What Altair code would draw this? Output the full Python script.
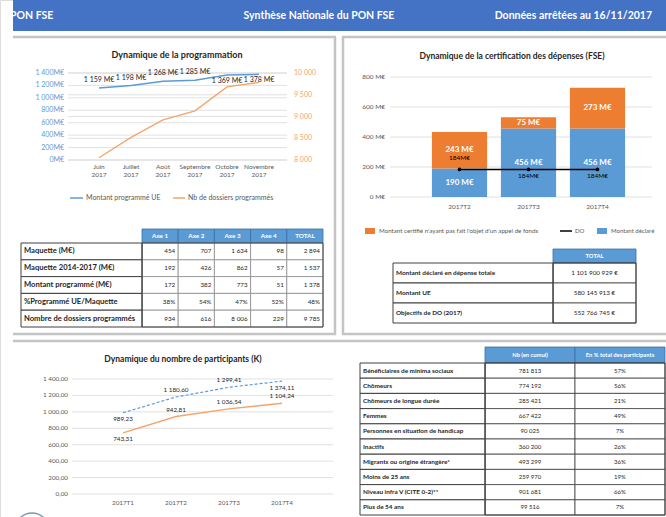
import altair as alt
import pandas as pd

FONT = "Lato"
GRAY_TXT = "#595959"
DARK_TXT = "#262626"
BLUE = "#5B9BD5"
ORANGE_BAR = "#ED7D31"
ORANGE_LINE = "#F4A46A"
HEADER_BLUE = "#4472C4"
TABLE_BLUE = "#5B9BD5"
GRID = "#D9D9D9"
PANEL = "#C4C4C4"

# ---------------- data ----------------
header_texts = ["PON FSE", "Synthèse Nationale du PON FSE", "Données arrêtées au 16/11/2017"]

prog_title = "Dynamique de la programmation"
prog_months = ["Juin\n2017", "Juillet\n2017", "Août\n2017", "Septembre\n2017", "Octobre\n2017", "Novembre\n2017"]
prog_montant = [1159, 1198, 1268, 1285, 1369, 1378]
prog_montant_labels = ["1 159 M€", "1 198 M€", "1 268 M€", "1 285 M€", "1 369 M€", "1 378 M€"]
prog_dossiers = [8050, 8520, 8920, 9130, 9680, 9785]
prog_left_ticks = [0, 200, 400, 600, 800, 1000, 1200, 1400]
prog_left_labels = ["0M€", "200M€", "400M€", "600M€", "800M€", "1 000M€", "1 200M€", "1 400M€"]
prog_right_ticks = [8000, 8500, 9000, 9500, 10000]
prog_right_labels = ["8 000", "8 500", "9 000", "9 500", "10 000"]
prog_series = ["Montant programmé UE", "Nb de dossiers programmés"]

t1_cols = ["Axe 1", "Axe 2", "Axe 3", "Axe 4", "TOTAL"]
t1_rows = ["Maquette (M€)", "Maquette 2014-2017 (M€)", "Montant programmé (M€)",
           "%Programmé UE/Maquette", "Nombre de dossiers programmés"]
t1_maquette = ["454", "707", "1 634", "98", "2 894"]
t1_maquette_1417 = ["192", "426", "862", "57", "1 537"]
t1_programme = ["172", "382", "773", "51", "1 378"]
t1_pct = ["38%", "54%", "47%", "52%", "48%"]
t1_dossiers = ["934", "616", "8 006", "229", "9 785"]

cert_title = "Dynamique de la certification des dépenses (FSE)"
cert_quarters = ["2017T2", "2017T3", "2017T4"]
cert_declare = [190, 456, 456]
cert_non_appel = [243, 75, 273]
cert_do = [184, 184, 184]
cert_declare_labels = ["190 M€", "456 M€", "456 M€"]
cert_non_appel_labels = ["243 M€", "75 M€", "273 M€"]
cert_do_labels = ["184M€", "184M€", "184M€"]
cert_ticks = [0, 200, 400, 600, 800]
cert_tick_labels = ["0 M€", "200 M€", "400 M€", "600 M€", "800 M€"]
cert_series = ["Montant certifié n'ayant pas fait l'objet d'un appel de fonds", "DO", "Montant déclaré"]

t2_cols = ["TOTAL"]
t2_rows = ["Montant déclaré en dépense totale", "Montant UE", "Objectifs de DO (2017)"]
t2_values = ["1 101 900 929 €", "580 145 913 €", "552 766 745 €"]

part_title = "Dynamique du nombre de participants (K)"
part_quarters = ["2017T1", "2017T2", "2017T3", "2017T4"]
part_total = [989.23, 1180.60, 1299.41, 1374.11]
part_total_labels = ["989,23", "1 180,60", "1 299,41", "1 374,11"]
part_other = [743.31, 942.81, 1036.54, 1104.24]
part_other_labels = ["743,31", "942,81", "1 036,54", "1 104,24"]
part_ticks = [0, 200, 400, 600, 800, 1000, 1200, 1400]
part_tick_labels = ["0,00", "200,00", "400,00", "600,00", "800,00", "1 000,00", "1 200,00", "1 400,00"]

t3_cols = ["Nb (en cumul)", "En % total des participants"]
t3_rows = ["Bénéficiaires de minima sociaux", "Chômeurs", "Chômeurs de longue durée", "Femmes",
           "Personnes en situation de handicap", "Inactifs", "Migrants ou origine étrangère*",
           "Moins de 25 ans", "Niveau infra V (CITE 0-2)**", "Plus de 54 ans"]
t3_nb = ["781 813", "774 192", "285 421", "667 422", "90 025", "360 200", "493 299", "259 970", "901 681", "99 516"]
t3_pct = ["57%", "56%", "21%", "49%", "7%", "26%", "36%", "19%", "66%", "7%"]

# ---------------- helpers ----------------
ONE = pd.DataFrame({"a": [0]})


def qs(domain, rng):
    return alt.Scale(domain=domain, range=rng, nice=False, zero=False)


def ps(domain, rng, padding=0.0):
    return alt.Scale(type="point", domain=domain, range=rng, padding=padding)


def bs(domain, rng, inner=0.0, outer=0.0):
    return alt.Scale(type="band", domain=domain, range=rng, paddingInner=inner, paddingOuter=outer)


def hrule(x1, x2, y, color=PANEL, w=2.5):
    return alt.Chart(ONE).mark_rule(color=color, strokeWidth=w).encode(
        x=alt.value(x1), x2=alt.value(x2), y=alt.value(y))


def vrule(x, y1, y2, color=PANEL, w=2.5):
    return alt.Chart(ONE).mark_rule(color=color, strokeWidth=w).encode(
        x=alt.value(x), y=alt.value(y1), y2=alt.value(y2))


def label(text, x, y, size=8, color=DARK_TXT, weight="normal", align="left"):
    return alt.Chart(pd.DataFrame({"t": [text]})).mark_text(
        align=align, baseline="middle", fontSize=size, color=color, fontWeight=weight, font=FONT
    ).encode(x=alt.value(x), y=alt.value(y), text="t:N")


def make_table(rows, cols, cells, label_x0, col_x0, col_x1, header_y0, row_y0, row_y1,
               label_size, value_size, header_size, value_align, label_stroke, cell_stroke):
    xs = bs(cols, [col_x0, col_x1])
    xsp = ps(cols, [col_x0, col_x1], 0.5)
    ys = bs(rows, [row_y0, row_y1])
    ysp = ps(rows, [row_y0, row_y1], 0.5)
    bw = (col_x1 - col_x0) / len(cols)
    hdr = pd.DataFrame({"c": cols})
    rdf = pd.DataFrame({"r": rows})
    long = pd.DataFrame([{"r": r, "c": c, "v": v}
                         for r, vals in zip(rows, cells) for c, v in zip(cols, vals)])
    lay = [
        alt.Chart(hdr).mark_rect(color=TABLE_BLUE, stroke="#3A6FA5", strokeWidth=0.8).encode(
            x=alt.X("c:N", scale=xs, axis=None), y=alt.value(header_y0), y2=alt.value(row_y0)),
        alt.Chart(hdr).mark_text(color="white", fontWeight="bold", fontSize=header_size,
                                 baseline="middle", font=FONT).encode(
            x=alt.X("c:N", scale=xsp, axis=None), y=alt.value((header_y0 + row_y0) / 2), text="c:N"),
        alt.Chart(long).mark_rect(fill="white", stroke=cell_stroke, strokeWidth=0.8).encode(
            x=alt.X("c:N", scale=xs, axis=None), y=alt.Y("r:N", scale=ys, axis=None)),
        alt.Chart(rdf).mark_rect(fill="white", stroke=label_stroke, strokeWidth=1).encode(
            x=alt.value(label_x0), x2=alt.value(col_x0), y=alt.Y("r:N", scale=ys, axis=None)),
        alt.Chart(rdf).mark_text(align="left", baseline="middle", fontSize=label_size,
                                 fontWeight="bold", color=DARK_TXT, font=FONT).encode(
            x=alt.value(label_x0 + 3), y=alt.Y("r:N", scale=ysp, axis=None), text="r:N"),
    ]
    if value_align == "right":
        vt = alt.Chart(long).mark_text(align="right", baseline="middle", fontSize=value_size,
                                       color=DARK_TXT, font=FONT, dx=bw / 2 - 3)
    else:
        vt = alt.Chart(long).mark_text(align="center", baseline="middle", fontSize=value_size,
                                       color=DARK_TXT, font=FONT)
    lay.append(vt.encode(x=alt.X("c:N", scale=xsp, axis=None),
                         y=alt.Y("r:N", scale=ysp, axis=None), text="v:N"))
    lay.append(alt.Chart(ONE).mark_rect(fill=None, stroke=label_stroke, strokeWidth=1).encode(
        x=alt.value(col_x0), x2=alt.value(col_x1), y=alt.value(row_y0), y2=alt.value(row_y1)))
    return lay


L = []

# ---------------- header & panels ----------------
L.append(alt.Chart(ONE).mark_rect(color=HEADER_BLUE).encode(
    x=alt.value(13), x2=alt.value(666), y=alt.value(0), y2=alt.value(31)))
L.append(label(header_texts[0], 10, 16, 10.5, "white", "bold", "left"))
L.append(label(header_texts[1], 319, 16, 10.5, "white", "bold", "center"))
L.append(label(header_texts[2], 652, 16, 10.5, "white", "bold", "right"))

L.append(hrule(13, 336, 37))
L.append(vrule(335, 37, 335))
L.append(hrule(13, 336, 334))
L.append(hrule(342, 666, 37))
L.append(vrule(343, 37, 335))
L.append(hrule(342, 666, 334))
L.append(hrule(13, 666, 341))

# ---------------- chart 1: programmation ----------------
xp = ps(prog_months, [99, 259])
yl = qs([0, 1400], [160, 73])
yr = qs([8000, 10000], [160, 73])

L.append(label(prog_title, 177, 55, 9, DARK_TXT, "bold", "center"))
L.append(alt.Chart(pd.DataFrame({"v": prog_left_ticks})).mark_rule(color=GRID, strokeWidth=0.8).encode(
    y=alt.Y("v:Q", scale=yl, axis=None), x=alt.value(68), x2=alt.value(287)))
L.append(alt.Chart(pd.DataFrame({"v": prog_right_ticks})).mark_rule(color=GRID, strokeWidth=0.8).encode(
    y=alt.Y("v:Q", scale=yr, axis=None), x=alt.value(68), x2=alt.value(287)))
L.append(alt.Chart(pd.DataFrame({"v": prog_left_ticks, "t": prog_left_labels})).mark_text(
    align="right", baseline="middle", fontSize=7, color=BLUE, font=FONT).encode(
    y=alt.Y("v:Q", scale=yl, axis=None), x=alt.value(64), text="t:N"))
L.append(alt.Chart(pd.DataFrame({"v": prog_right_ticks, "t": prog_right_labels})).mark_text(
    align="left", baseline="middle", fontSize=7, color=ORANGE_LINE, font=FONT).encode(
    y=alt.Y("v:Q", scale=yr, axis=None), x=alt.value(294), text="t:N"))
L.append(alt.Chart(pd.DataFrame({"m": prog_months})).mark_text(
    baseline="top", fontSize=6.5, color=GRAY_TXT, lineBreak="\n", lineHeight=8, font=FONT).encode(
    x=alt.X("m:N", scale=xp, axis=None), y=alt.value(164), text="m:N"))

d1 = pd.DataFrame({"m": prog_months, "v": prog_montant, "lab": prog_montant_labels,
                   "d": prog_dossiers, "i": list(range(len(prog_months)))})
L.append(alt.Chart(d1).mark_line(color=ORANGE_LINE, strokeWidth=1.3).encode(
    x=alt.X("m:N", scale=xp, axis=None), y=alt.Y("d:Q", scale=yr, axis=None), order="i:Q"))
L.append(alt.Chart(d1).mark_line(color=BLUE, strokeWidth=1.5).encode(
    x=alt.X("m:N", scale=xp, axis=None), y=alt.Y("v:Q", scale=yl, axis=None), order="i:Q"))
L.append(alt.Chart(d1).transform_filter("datum.i < 4").mark_text(
    baseline="middle", fontSize=7, color=DARK_TXT, dy=-8, font=FONT).encode(
    x=alt.X("m:N", scale=xp, axis=None), y=alt.Y("v:Q", scale=yl, axis=None), text="lab:N"))
L.append(alt.Chart(d1).transform_filter("datum.i >= 4").mark_text(
    baseline="middle", fontSize=7, color=DARK_TXT, dy=6, font=FONT).encode(
    x=alt.X("m:N", scale=xp, axis=None), y=alt.Y("v:Q", scale=yl, axis=None), text="lab:N"))

# legend
L.append(hrule(70, 83, 198, BLUE, 1.5))
L.append(label(prog_series[0], 86, 198, 7, GRAY_TXT))
L.append(hrule(173, 185, 198, ORANGE_LINE, 1.5))
L.append(label(prog_series[1], 188, 198, 7, GRAY_TXT))

# table 1
L += make_table(t1_rows, t1_cols,
                [t1_maquette, t1_maquette_1417, t1_programme, t1_pct, t1_dossiers],
                21, 142, 323, 229, 243, 327, 7.6, 6.3, 6.3, "right", "#404040", "#8C8C8C")

# ---------------- chart 2: certification ----------------
xb = bs(cert_quarters, [425, 632], 0.2, 0.1)
xbp = ps(cert_quarters, [459.5, 597.5])
yb = qs([0, 800], [197, 77])

L.append(label(cert_title, 512, 56, 8.5, DARK_TXT, "bold", "center"))
L.append(alt.Chart(pd.DataFrame({"v": cert_ticks})).mark_rule(color=GRID, strokeWidth=0.8).encode(
    y=alt.Y("v:Q", scale=yb, axis=None), x=alt.value(390), x2=alt.value(652)))
L.append(alt.Chart(pd.DataFrame({"v": cert_ticks, "t": cert_tick_labels})).mark_text(
    align="right", baseline="middle", fontSize=6.5, color=GRAY_TXT, font=FONT).encode(
    y=alt.Y("v:Q", scale=yb, axis=None), x=alt.value(385), text="t:N"))
L.append(alt.Chart(pd.DataFrame({"q": cert_quarters})).mark_text(
    baseline="middle", fontSize=6.5, color=GRAY_TXT, font=FONT).encode(
    x=alt.X("q:N", scale=xbp, axis=None), y=alt.value(207), text="q:N"))

d2 = pd.DataFrame({
    "q": cert_quarters,
    "d": cert_declare,
    "top": [a + b for a, b in zip(cert_declare, cert_non_appel)],
    "ld": cert_declare_labels,
    "ln": cert_non_appel_labels,
    "do": cert_do,
    "ldo": cert_do_labels,
    "i": list(range(len(cert_quarters))),
    "z": [0] * len(cert_quarters),
})
L.append(alt.Chart(d2).mark_bar(color=BLUE).encode(
    x=alt.X("q:N", scale=xb, axis=None), y=alt.Y("d:Q", scale=yb, axis=None), y2="z:Q"))
L.append(alt.Chart(d2).mark_bar(color=ORANGE_BAR).encode(
    x=alt.X("q:N", scale=xb, axis=None), y=alt.Y("top:Q", scale=yb, axis=None), y2="d:Q"))
L.append(alt.Chart(d2).transform_calculate(mid="datum.d / 2").mark_text(
    color="white", fontWeight="bold", fontSize=8, baseline="middle", font=FONT).encode(
    x=alt.X("q:N", scale=xbp, axis=None), y=alt.Y("mid:Q", scale=yb, axis=None), text="ld:N"))
L.append(alt.Chart(d2).transform_calculate(mid="(datum.d + datum.top) / 2").mark_text(
    color="white", fontWeight="bold", fontSize=8, baseline="middle", font=FONT).encode(
    x=alt.X("q:N", scale=xbp, axis=None), y=alt.Y("mid:Q", scale=yb, axis=None), text="ln:N"))
L.append(alt.Chart(d2).mark_line(color="black", strokeWidth=1.5,
                                 point=alt.OverlayMarkDef(color="black", size=14, filled=True)).encode(
    x=alt.X("q:N", scale=xbp, axis=None), y=alt.Y("do:Q", scale=yb, axis=None), order="i:Q"))
L.append(alt.Chart(d2).transform_filter("datum.i == 0").mark_text(
    baseline="middle", fontSize=6.5, color="black", dy=-11, font=FONT).encode(
    x=alt.X("q:N", scale=xbp, axis=None), y=alt.Y("do:Q", scale=yb, axis=None), text="ldo:N"))
L.append(alt.Chart(d2).transform_filter("datum.i > 0").mark_text(
    baseline="middle", fontSize=6.5, color="black", dy=7, font=FONT).encode(
    x=alt.X("q:N", scale=xbp, axis=None), y=alt.Y("do:Q", scale=yb, axis=None), text="ldo:N"))

# legend
L.append(alt.Chart(ONE).mark_rect(color=ORANGE_BAR).encode(
    x=alt.value(365), x2=alt.value(375), y=alt.value(228), y2=alt.value(234)))
L.append(label(cert_series[0], 379, 231, 6.2, GRAY_TXT))
L.append(hrule(560, 572, 231, "black", 1.5))
L.append(label(cert_series[1], 575, 231, 6.0, GRAY_TXT))
L.append(alt.Chart(ONE).mark_rect(color=BLUE).encode(
    x=alt.value(597), x2=alt.value(607), y=alt.value(228), y2=alt.value(234)))
L.append(label(cert_series[2], 611, 231, 6.0, GRAY_TXT))

# table 2
L += make_table(t2_rows, t2_cols, [[v] for v in t2_values],
                393, 553, 636, 249, 263, 323, 6.4, 6.3, 5.8, "center", "#404040", "#404040")

# ---------------- chart 3: participants ----------------
xq = ps(part_quarters, [123, 282])
yq = qs([0, 1400], [494, 379])

L.append(label(part_title, 183, 359, 8.5, DARK_TXT, "bold", "center"))
L.append(alt.Chart(pd.DataFrame({"v": part_ticks})).mark_rule(color=GRID, strokeWidth=0.8).encode(
    y=alt.Y("v:Q", scale=yq, axis=None), x=alt.value(72), x2=alt.value(333)))
L.append(alt.Chart(pd.DataFrame({"v": part_ticks, "t": part_tick_labels})).mark_text(
    align="right", baseline="middle", fontSize=6.3, color=GRAY_TXT, font=FONT).encode(
    y=alt.Y("v:Q", scale=yq, axis=None), x=alt.value(68), text="t:N"))
L.append(alt.Chart(pd.DataFrame({"q": part_quarters})).mark_text(
    baseline="middle", fontSize=6.3, color=GRAY_TXT, font=FONT).encode(
    x=alt.X("q:N", scale=xq, axis=None), y=alt.value(503), text="q:N"))

d3 = pd.DataFrame({"q": part_quarters, "t": part_total, "lt": part_total_labels,
                   "o": part_other, "lo": part_other_labels, "i": list(range(len(part_quarters)))})
L.append(alt.Chart(d3).mark_line(color=BLUE, strokeWidth=1.2, strokeDash=[3, 2]).encode(
    x=alt.X("q:N", scale=xq, axis=None), y=alt.Y("t:Q", scale=yq, axis=None), order="i:Q"))
L.append(alt.Chart(d3).mark_line(color=ORANGE_LINE, strokeWidth=1.4).encode(
    x=alt.X("q:N", scale=xq, axis=None), y=alt.Y("o:Q", scale=yq, axis=None), order="i:Q"))
for flt, dy in [("datum.i == 0 || datum.i == 3", 6.5), ("datum.i == 1 || datum.i == 2", -7)]:
    L.append(alt.Chart(d3).transform_filter(flt).mark_text(
        baseline="middle", fontSize=6.3, color=DARK_TXT, dy=dy, font=FONT).encode(
        x=alt.X("q:N", scale=xq, axis=None), y=alt.Y("t:Q", scale=yq, axis=None), text="lt:N"))
for flt, dy in [("datum.i == 0", 6.5), ("datum.i > 0", -7)]:
    L.append(alt.Chart(d3).transform_filter(flt).mark_text(
        baseline="middle", fontSize=6.3, color=DARK_TXT, dy=dy, font=FONT).encode(
        x=alt.X("q:N", scale=xq, axis=None), y=alt.Y("o:Q", scale=yq, axis=None), text="lo:N"))

# table 3
L += make_table(t3_rows, t3_cols, [[a, b] for a, b in zip(t3_nb, t3_pct)],
                360, 485, 665, 347, 363, 515, 6.4, 6.0, 5.8, "center", "#404040", "#404040")

# logo fragment
L.append(alt.Chart(ONE).mark_point(shape="circle", size=1156, color="#4A6E96", strokeWidth=1.5,
                                   filled=False).encode(x=alt.value(32), y=alt.value(530)))

chart = alt.layer(*L).resolve_scale(x="independent", y="independent").properties(
    width=666, height=517, padding=0, autosize=alt.AutoSizeParams(type="none"),
    background="white",
).configure_view(stroke=None).configure(font=FONT)

chart.save("out.html", embed_options={"renderer": "svg", "actions": False})
